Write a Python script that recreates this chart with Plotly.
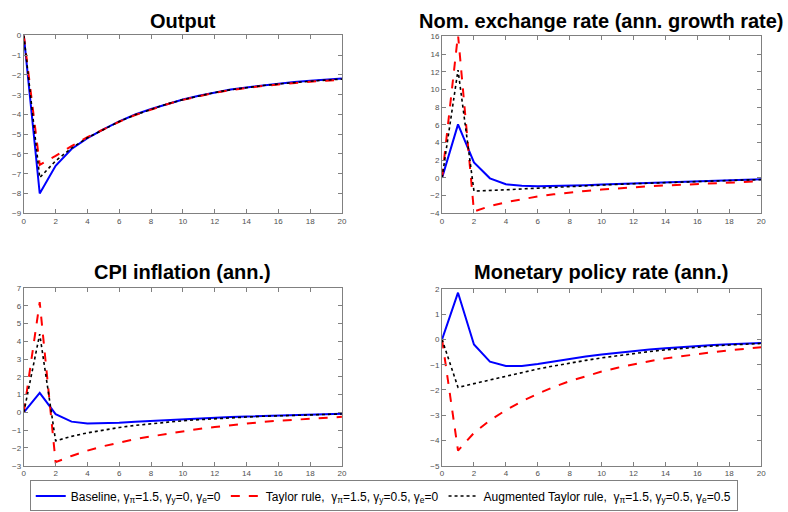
import plotly.graph_objects as go

periods = list(range(21))

output_base = [0, -8.0, -6.6, -5.75, -5.2, -4.75, -4.35, -4.0, -3.72, -3.46, -3.24, -3.05, -2.88, -2.74, -2.63, -2.53, -2.44, -2.36, -2.29, -2.23, -2.18]
output_taylor = [0, -6.55, -6.1, -5.6, -5.15, -4.75, -4.37, -4.03, -3.74, -3.48, -3.26, -3.07, -2.9, -2.77, -2.66, -2.56, -2.48, -2.4, -2.34, -2.29, -2.24]
output_aug = [0, -7.2, -6.35, -5.7, -5.18, -4.75, -4.36, -4.02, -3.73, -3.47, -3.25, -3.06, -2.89, -2.75, -2.64, -2.54, -2.46, -2.38, -2.32, -2.26, -2.21]

fx_base = [0, 6.05, 1.75, -0.05, -0.72, -0.9, -0.95, -0.93, -0.88, -0.82, -0.76, -0.7, -0.63, -0.57, -0.5, -0.44, -0.38, -0.32, -0.26, -0.2, -0.15]
fx_taylor = [0, 16.2, -3.8, -3.2, -2.75, -2.4, -2.1, -1.86, -1.65, -1.47, -1.32, -1.18, -1.06, -0.95, -0.86, -0.77, -0.68, -0.6, -0.52, -0.45, -0.38]
fx_aug = [0, 12.2, -1.5, -1.45, -1.35, -1.25, -1.15, -1.06, -0.97, -0.89, -0.81, -0.73, -0.66, -0.59, -0.52, -0.46, -0.4, -0.34, -0.29, -0.24, -0.2]

cpi_base = [0, 1.1, -0.1, -0.52, -0.62, -0.62, -0.58, -0.53, -0.48, -0.43, -0.38, -0.34, -0.3, -0.26, -0.23, -0.2, -0.17, -0.14, -0.12, -0.1, -0.08]
cpi_taylor = [0, 6.2, -2.8, -2.45, -2.15, -1.9, -1.7, -1.5, -1.35, -1.2, -1.05, -0.93, -0.82, -0.72, -0.62, -0.54, -0.47, -0.41, -0.35, -0.3, -0.25]
cpi_aug = [0, 4.4, -1.6, -1.35, -1.15, -0.98, -0.85, -0.73, -0.63, -0.55, -0.47, -0.41, -0.35, -0.3, -0.26, -0.22, -0.19, -0.16, -0.13, -0.11, -0.09]

rate_base = [0, 1.85, -0.2, -0.88, -1.05, -1.05, -0.97, -0.87, -0.77, -0.68, -0.6, -0.53, -0.46, -0.4, -0.35, -0.3, -0.26, -0.22, -0.19, -0.16, -0.14]
rate_taylor = [0, -4.4, -3.7, -3.2, -2.8, -2.45, -2.15, -1.88, -1.65, -1.45, -1.27, -1.12, -0.98, -0.86, -0.75, -0.66, -0.57, -0.5, -0.43, -0.37, -0.31]
rate_aug = [0, -1.9, -1.75, -1.6, -1.45, -1.3, -1.17, -1.05, -0.93, -0.83, -0.73, -0.64, -0.55, -0.48, -0.41, -0.35, -0.3, -0.26, -0.22, -0.19, -0.16]

titles = ["Output", "Nom. exchange rate (ann. growth rate)", "CPI inflation (ann.)", "Monetary policy rate (ann.)"]
y_ranges = [[-9, 0], [-4, 16], [-3, 7], [-5, 2]]
y_dticks = [1, 2, 1, 1]

series_names = [
    "Baseline, γ<sub>π</sub>=1.5, γ<sub>y</sub>=0, γ<sub>e</sub>=0",
    "Taylor rule,  γ<sub>π</sub>=1.5, γ<sub>y</sub>=0.5, γ<sub>e</sub>=0",
    "Augmented Taylor rule,  γ<sub>π</sub>=1.5, γ<sub>y</sub>=0.5, γ<sub>e</sub>=0.5",
]
panels = [
    (output_base, output_taylor, output_aug),
    (fx_base, fx_taylor, fx_aug),
    (cpi_base, cpi_taylor, cpi_aug),
    (rate_base, rate_taylor, rate_aug),
]
styles = [
    dict(color="#0000ff", width=2, dash="solid"),
    dict(color="#ff0000", width=2, dash="dash"),
    dict(color="#000000", width=1.6, dash="dot"),
]

W, H = 788, 512
px_x = [(22, 343), (444, 766), (22, 343), (444, 766)]
px_y = [(32, 213), (33, 213), (289, 470), (290, 470)]
title_y = [17, 17, 273, 273]

fig = go.Figure()
layout = dict(
    width=W, height=H, margin=dict(l=0, r=0, t=0, b=0),
    paper_bgcolor="white", plot_bgcolor="white",
    font=dict(family="Liberation Sans, Arial", color="#000"),
    annotations=[],
)

for i in range(4):
    ax = "" if i == 0 else str(i + 1)
    for j in range(3):
        fig.add_trace(go.Scatter(
            x=periods, y=panels[i][j], mode="lines", line=styles[j],
            name=series_names[j], showlegend=(i == 0),
            xaxis="x" + ax, yaxis="y" + ax, cliponaxis=True,
        ))
    x0, x1 = px_x[i]
    y0, y1 = px_y[i]
    common = dict(
        showline=True, linecolor="#808080", linewidth=1, mirror="ticks",
        ticks="inside", ticklen=4, tickcolor="#808080", showgrid=False, zeroline=False,
        tickfont=dict(size=8, color="#505050"),
    )
    layout["xaxis" + ax] = dict(
        domain=[x0 / W, x1 / W], range=[0, 20], dtick=2, tick0=0,
        anchor="y" + ax, **common,
    )
    layout["yaxis" + ax] = dict(
        domain=[1 - y1 / H, 1 - y0 / H], range=y_ranges[i], dtick=y_dticks[i],
        anchor="x" + ax, **common,
    )
    layout["annotations"].append(dict(
        text="<b>" + titles[i] + "</b>", x=(x0 + x1) / 2 / W, y=1 - title_y[i] / H,
        xref="paper", yref="paper", xanchor="center", yanchor="middle",
        showarrow=False, font=dict(size=20, color="#000"),
    ))

layout["legend"] = dict(
    orientation="h", x=28 / W, y=1 - 485 / H, xanchor="left", yanchor="top",
    bordercolor="#808080", borderwidth=1, bgcolor="white",
    font=dict(family="Liberation Sans Narrow, Liberation Sans, Arial", size=12, color="#000"),
    itemwidth=30, tracegroupgap=0,
)
fig.update_layout(**layout)
fig.write_html("out.html")
